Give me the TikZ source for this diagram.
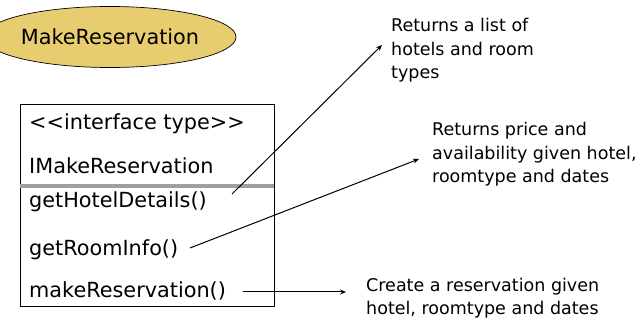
\documentclass[tikz,border=0pt]{standalone}
\usepackage{fontspec}
\setmainfont{DejaVu Sans}
\usetikzlibrary{shapes.geometric,arrows.meta}
\definecolor{ellfill}{RGB}{232,205,112}
\begin{document}
\begin{tikzpicture}[x=1pt,y=-1pt,
  boxtext/.style={anchor=base west,inner sep=0pt,font=\fontsize{20.8}{24}\selectfont},
  note/.style={anchor=base west,inner sep=0pt,align=left,font=\fontsize{17.5}{23.5}\selectfont},
  conn/.style={line width=1pt,-{Stealth[length=6pt,width=5pt]}}]
\useasboundingbox (0,0) rectangle (637,320);
\node[ellipse,draw,fill=ellfill,line width=0.7pt,minimum width=206pt,minimum height=61pt,inner sep=0pt,font=\fontsize{20.8}{24}\selectfont] (uc) at (110,37) {MakeReservation};
\node[draw,line width=0.8pt,minimum width=254pt,minimum height=202pt,inner sep=0pt] (box) at (147,205) {};
\draw[gray!75,line width=3.5pt] (box.west |- 0,186) coordinate (sepl) -- (box.east |- 0,186) coordinate (sepr);
\node[boxtext] (stereo) at (29,130) {{<}{<}interface type{>}{>}};
\node[boxtext] (iname) at (29,174) {IMakeReservation};
\node[boxtext] (m1) at (29,208) {getHotelDetails()};
\node[boxtext] (m2) at (29,256) {getRoomInfo()};
\node[boxtext] (m3) at (29,298) {makeReservation()};
\node[note] (n1) at (391,79) {Returns a list of\\hotels and room\\types};
\node[note] (n2) at (432,183) {Returns price and\\availability given hotel,\\roomtype and dates};
\node[note] (n3) at (366,315) {Create a reservation given\\hotel, roomtype and dates};
\coordinate (s1) at (232,194);
\coordinate (e1) at (382,45);
\coordinate (s2) at (190,248);
\coordinate (e2) at (419,159);
\coordinate (s3) at (243,292);
\coordinate (e3) at (346,292);
\draw[conn] (s1) -- (e1);
\draw[conn] (s2) -- (e2);
\draw[conn] (s3) -- (e3);
\end{tikzpicture}
\end{document}
